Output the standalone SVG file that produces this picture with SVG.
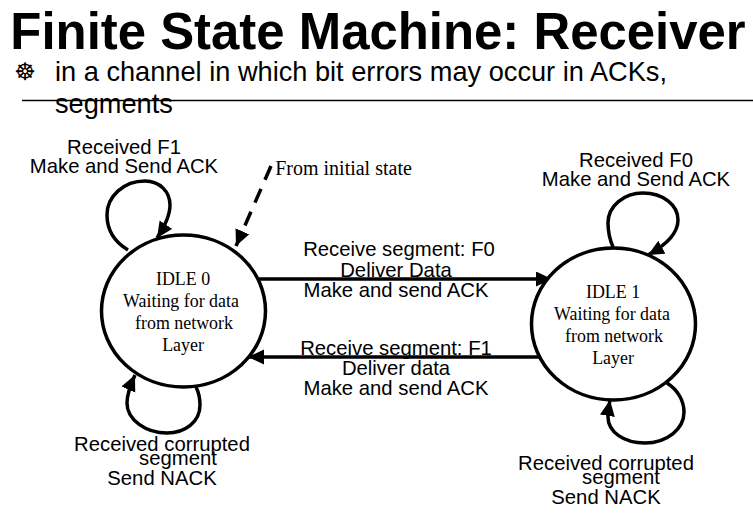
<svg xmlns="http://www.w3.org/2000/svg" width="753" height="517" viewBox="0 0 753 517">
<style>
text{fill:#000;text-anchor:middle}
.t{font:bold 50.9px "Liberation Sans",Arial,sans-serif}
.b{font:27.2px "Liberation Sans",Arial,sans-serif;text-anchor:start}
.l{font:20.3px "Liberation Sans",Arial,sans-serif}
.s{font:17.9px "Liberation Serif","Times New Roman",serif}
.n{fill:#fff;stroke:#000;stroke-width:3.5}
.c{fill:none;stroke:#000;stroke-width:3.5}
</style>
<defs>
<marker id="a" markerUnits="userSpaceOnUse" markerWidth="18" markerHeight="16" refX="16" refY="7.5" orient="auto"><path d="M0 0L16 7.500L0 15Z"/></marker>
</defs>
<rect width="753" height="517" fill="#fff"/>
<text class="t" x="378" y="49">Finite State Machine: Receiver</text>
<text x="25" y="80" style="font:24px 'DejaVu Sans',sans-serif">☸</text>
<text class="b" x="55" y="81">in a channel in which bit errors may occur in ACKs,</text>
<text class="b" x="55" y="113">segments</text>
<path d="M22 100.500H753" stroke="#000" stroke-width="1.500"/>
<g id="connectors">
<path class="c" d="M128 250C113 241 107 228 107 215C107 196 124 181 145 181C160 181 170 192 170 205C170 216 165 226 157 238" marker-end="url(#a)"/>
<path class="c" d="M271 166L236 246" stroke-dasharray="15 10" marker-end="url(#a)"/>
<path class="c" d="M259 279H552" marker-end="url(#a)"/>
<path class="c" d="M541 357H248" marker-end="url(#a)"/>
<path class="c" d="M196 387C199 393 200 399 200 405C200 422 185 433 167 433C146 433 127 420 127 403C127 394 130 386 135 375" marker-end="url(#a)"/>
<path class="c" d="M613 247C610 240 608 232 608 223C608 206 624 193 643 193C663 193 678 205 678 220C678 234 666 245 648 255" marker-end="url(#a)"/>
<path class="c" d="M667 383C678 390 684 401 684 412C684 429 667 443 645 443C624 443 608 432 608 417C608 411 609 406 610 400" marker-end="url(#a)"/>
</g>
<g id="idle0">
<ellipse class="n" cx="183.500" cy="311" rx="82" ry="76"/>
<text class="s" x="183" y="285">IDLE 0</text>
<text class="s" x="181" y="307">Waiting for data</text>
<text class="s" x="184" y="329">from network</text>
<text class="s" x="183" y="351">Layer</text>
</g>
<g id="idle1">
<ellipse class="n" cx="613.500" cy="324" rx="82" ry="76"/>
<text class="s" x="613" y="298">IDLE 1</text>
<text class="s" x="612" y="320">Waiting for data</text>
<text class="s" x="614" y="342">from network</text>
<text class="s" x="613" y="364">Layer</text>
</g>
<g id="labels">
<text class="l" x="124" y="154">Received F1</text>
<text class="l" x="124" y="173">Make and Send ACK</text>
<text x="343.500" y="175" style="font:20px 'Liberation Serif',serif">From initial state</text>
<text class="l" x="636" y="167">Received F0</text>
<text class="l" x="636" y="186">Make and Send ACK</text>
<text class="l" x="399" y="256">Receive segment: F0</text>
<text class="l" x="396" y="277">Deliver Data</text>
<text class="l" x="396" y="297">Make and send ACK</text>
<text class="l" x="396" y="355">Receive segment: F1</text>
<text class="l" x="396" y="375">Deliver data</text>
<text class="l" x="396" y="395">Make and send ACK</text>
<text class="l" x="162" y="451">Received corrupted</text>
<text class="l" x="178" y="465">segment</text>
<text class="l" x="162" y="485">Send NACK</text>
<text class="l" x="606" y="470">Received corrupted</text>
<text class="l" x="621" y="484">segment</text>
<text class="l" x="606" y="504">Send NACK</text>
</g>
</svg>
